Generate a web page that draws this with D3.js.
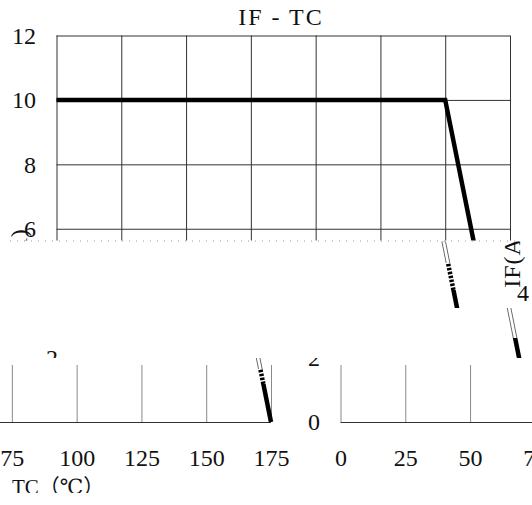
<!DOCTYPE html>
<html>
<head>
<meta charset="utf-8">
<script src="https://cdn.jsdelivr.net/npm/d3@7"></script>
<style>
  body { margin: 0; background: #fff; }
  svg { display: block; }
  text { font-family: "Liberation Serif", "DejaVu Serif", "Noto Sans CJK JP", serif; fill: #111; }
</style>
</head>
<body>
<svg id="chart"></svg>
<script>
// Data
var tcValues = [0, 150, 175];
var ifValues = [10, 10, 0];
var xTicks = [0, 25, 50, 75, 100, 125, 150, 175];
var yTicks = [0, 2, 4, 6, 8, 10, 12];
var titleText = "IF - TC";
var xLabelText = "TC\uFF08\u2103\uFF09";
var yLabelText = "IF(A)";

var W = 532, H = 505;
var margin = { top: 35.5, left: 56.5 },
  width = 453.5,
  height = 386.5;
var serif = '"Liberation Serif", "DejaVu Serif", "Noto Sans CJK JP", serif';

var x = d3.scaleLinear().domain([0, 175]).range([margin.left, margin.left + width]);
var y = d3.scaleLinear().domain([0, 12]).range([margin.top + height, margin.top]);

var points = tcValues.map(function(t, i) { return [t, ifValues[i]]; });
var line = d3.line().x(d => x(d[0])).y(d => y(d[1]));

var svg = d3.select("#chart").attr("width", W).attr("height", H);
var defs = svg.append("defs");

// draws the whole chart (original coordinates) into g
function drawChart(g, o) {
  var bottom = margin.top + height;
  if (o.grid) {
    var top = Math.max(o.gridTop, margin.top);
    var vg = g.append("g")
      .attr("transform", "translate(0," + bottom + ")")
      .call(d3.axisBottom(x).tickValues(xTicks).tickSize(-(bottom - top)).tickFormat(""));
    vg.select(".domain").remove();
    vg.selectAll("text").remove();
    vg.selectAll("line").attr("stroke", o.vColor).attr("stroke-width", 1);

    var hg = g.append("g")
      .attr("transform", "translate(" + margin.left + ",0)")
      .call(d3.axisLeft(y).tickValues(yTicks.filter(v => y(v) >= o.gridTop)).tickSize(-width).tickFormat(""));
    hg.select(".domain").remove();
    hg.selectAll("text").remove();
    hg.selectAll("line").attr("stroke", "#333").attr("stroke-width", 1);
  }

  // tick labels
  var yl = g.append("g")
    .attr("transform", "translate(" + margin.left + ",0)")
    .call(d3.axisLeft(y).tickValues(yTicks).tickSize(0).tickPadding(20.5));
  yl.select(".domain").remove();
  yl.attr("font-family", serif).attr("font-size", 24);
  yl.selectAll("text").attr("fill", "#111");

  var xl = g.append("g")
    .attr("transform", "translate(0," + bottom + ")")
    .call(d3.axisBottom(x).tickValues(xTicks).tickSize(0).tickPadding(27));
  xl.select(".domain").remove();
  xl.attr("font-family", serif).attr("font-size", 24);
  xl.selectAll("text").attr("fill", "#111");

  // titles
  g.append("text")
    .attr("x", 281).attr("y", 25)
    .style("text-anchor", "middle").style("font-size", "24px").style("letter-spacing", "2px")
    .text(titleText);
  g.append("text")
    .attr("x", 251).attr("y", 494)
    .style("font-size", "21px")
    .text(xLabelText);
  g.append("text")
    .attr("transform", "translate(27,258) rotate(-90)")
    .style("text-anchor", "middle").style("font-size", "24px").style("letter-spacing", "1px")
    .text(yLabelText);

  // the curve
  var p = g.append("path").datum(points).attr("d", line)
    .attr("fill", "none").attr("stroke", "#000").attr("stroke-width", 4.5)
    .attr("stroke-linejoin", "miter");
  if (o.style === "ladder") p.attr("stroke-dasharray", "2.5,1.5");
  if (o.style === "hollow") {
    p.attr("stroke", "#666");
    g.append("path").datum(points).attr("d", line)
      .attr("fill", "none").attr("stroke", "#fff").attr("stroke-width", 2.6);
  }
}

// pieces of the picture: clip box (screen coords) and horizontal offset
var pieces = [
  { c: [0, 0, 532, 240.5], dx: 0, grid: true, gridTop: 0, vColor: "#333", style: "solid" },
  { c: [9, 241.5, 532, 263], dx: -30, grid: false, style: "hollow" },
  { c: [9, 263, 532, 290], dx: -30, grid: false, style: "ladder" },
  { c: [9, 290, 532, 308], dx: -30, grid: false, style: "solid" },
  { c: [493, 241.5, 532, 308], dx: 493, grid: false, style: "solid" },
  { c: [0, 308, 532, 338], dx: 22, grid: false, style: "hollow" },
  { c: [0, 338, 532, 358], dx: 22, grid: false, style: "solid" },
  { c: [298, 358, 532, 493], dx: 284, grid: true, gridTop: 365, vColor: "#8a8a8a", style: "solid" },
  { c: [0, 358, 298, 369], dx: -239, grid: true, gridTop: 365, vColor: "#8a8a8a", style: "hollow" },
  { c: [0, 369, 298, 384], dx: -239, grid: true, gridTop: 365, vColor: "#8a8a8a", style: "ladder" },
  { c: [0, 384, 298, 493], dx: -239, grid: true, gridTop: 365, vColor: "#8a8a8a", style: "solid" }
];

pieces.forEach(function(pc, i) {
  defs.append("clipPath").attr("id", "clip" + i)
    .append("rect")
    .attr("x", pc.c[0]).attr("y", pc.c[1])
    .attr("width", pc.c[2] - pc.c[0]).attr("height", pc.c[3] - pc.c[1]);
  var g = svg.append("g").attr("clip-path", "url(#clip" + i + ")")
    .append("g").attr("transform", "translate(" + pc.dx + ",0)");
  drawChart(g, pc);

  // drop the label texts that this piece does not show at all
  g.selectAll("text").each(function() {
    var r = this.getBoundingClientRect();
    var hit = r.right > pc.c[0] && r.left < pc.c[2] && r.bottom > pc.c[1] && r.top < pc.c[3];
    if (!hit) d3.select(this).remove();
  });
});

// noisy row between the pieces
svg.append("line")
  .attr("x1", 10).attr("x2", 520).attr("y1", 241).attr("y2", 241)
  .attr("stroke", "#999").attr("stroke-width", 1).attr("stroke-dasharray", "1,6");
</script>
</body>
</html>
